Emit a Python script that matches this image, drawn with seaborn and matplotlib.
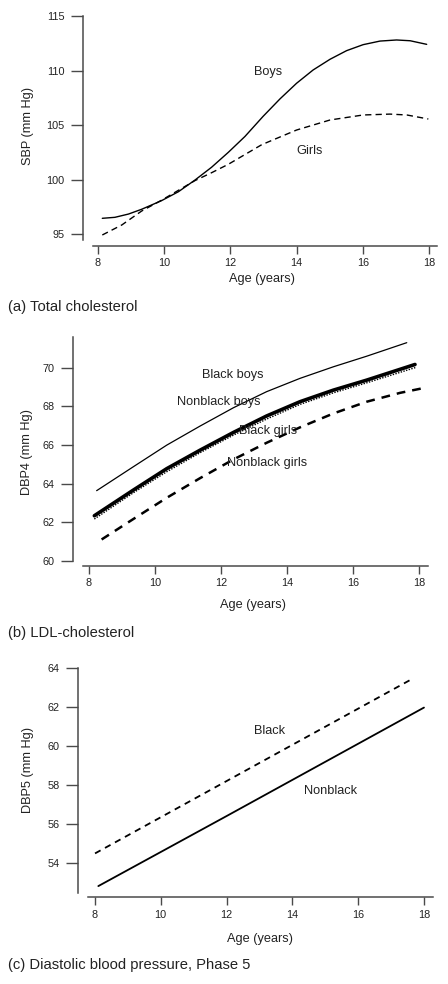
import matplotlib
matplotlib.use("Agg")
import matplotlib.pyplot as plt
import seaborn as sns

# ---------------- data ----------------
# (a) SBP by age, boys and girls
age_a_boys = [8.13, 8.51, 8.92, 9.32, 9.92, 10.43, 10.93, 11.43, 11.94, 12.44, 12.99, 13.5,
              14.0, 14.5, 15.01, 15.51, 16.01, 16.52, 17.02, 17.43, 17.93]
sbp_boys = [96.44, 96.53, 96.83, 97.27, 98.06, 98.88, 99.95, 101.12, 102.5, 103.95, 105.8, 107.4,
            108.83, 110.05, 111.03, 111.82, 112.37, 112.7, 112.8, 112.73, 112.4]
age_a_girls = [8.13, 8.72, 9.32, 9.92, 10.93, 11.43, 11.94, 12.95, 14.0, 15.01, 16.01, 16.82,
               17.33, 17.98]
sbp_girls = [94.91, 95.83, 97.11, 98.1, 99.9, 100.62, 101.4, 103.2, 104.54, 105.46, 105.92, 106.0,
             105.92, 105.55]

# (b) DBP4 by age
age_b_bb = [8.24, 9.35, 10.36, 11.37, 12.38, 13.38, 14.39, 15.40, 16.41, 17.62]
dbp4_black_boys = [63.63, 64.87, 65.99, 66.98, 67.93, 68.76, 69.45, 70.05, 70.6, 71.3]
age_b_nb = [8.17, 9.35, 10.36, 11.37, 12.38, 13.38, 14.39, 15.40, 16.41, 17.87]
dbp4_nonblack_boys = [62.33, 63.66, 64.77, 65.73, 66.65, 67.50, 68.24, 68.84, 69.36, 70.17]
age_b_bg = [8.17, 9.35, 10.36, 11.37, 12.38, 13.38, 14.39, 15.40, 16.41, 17.9]
dbp4_black_girls = [62.16, 63.52, 64.61, 65.6, 66.51, 67.34, 68.1, 68.7, 69.22, 70.02]
age_b_ng = [8.39, 9.35, 10.36, 11.37, 12.38, 13.38, 14.39, 15.40, 16.41, 17.42, 18.22]
dbp4_nonblack_girls = [61.1, 62.16, 63.26, 64.28, 65.25, 66.11, 66.91, 67.63, 68.24, 68.7, 68.98]

# (c) DBP5 by age
age_c_black = [8.01, 12.0, 17.67]
dbp5_black = [54.48, 58.2, 63.49]
age_c_nonblack = [8.11, 12.0, 17.99]
dbp5_nonblack = [52.8, 56.4, 61.98]

x_ticks = [8, 10, 12, 14, 16, 18]
y_ticks_a = [95, 100, 105, 110, 115]
y_ticks_b = [60, 62, 64, 66, 68, 70]
y_ticks_c = [54, 56, 58, 60, 62, 64]

captions = ["(a) Total cholesterol", "(b) LDL-cholesterol", "(c) Diastolic blood pressure, Phase 5"]
ylabels = ["SBP (mm Hg)", "DBP4 (mm Hg)", "DBP5 (mm Hg)"]

# ---------------- style ----------------
sns.set_style("ticks")
plt.rcParams["font.family"] = ["Liberation Sans", "DejaVu Sans"]

W, H = 448, 984
fig = plt.figure(figsize=(W / 100, H / 100), dpi=100)

SPINE_C = "#4a4a4a"
TXT_C = "#222222"
LBL_FS = 9.2
TICK_FS = 7.8


def make_ax(left, right, top, bottom):
    return fig.add_axes([left / W, 1 - bottom / H, (right - left) / W, (bottom - top) / H])


def style_ax(ax, xlim, ylim, yticks, left_out, bottom_out, ylabel, ylab_xy, xlab_xy):
    ax.set_xlim(*xlim)
    ax.set_ylim(*ylim)
    ax.set_xticks(x_ticks)
    ax.set_yticks(yticks)
    for s in ["top", "right"]:
        ax.spines[s].set_visible(False)
    ax.spines["left"].set_position(("outward", left_out))
    ax.spines["bottom"].set_position(("outward", bottom_out))
    for s in ["left", "bottom"]:
        ax.spines[s].set_color(SPINE_C)
        ax.spines[s].set_linewidth(1.1)
    ax.tick_params(axis="y", length=8.5, width=1.0, color=SPINE_C, labelsize=TICK_FS,
                   labelcolor=TXT_C, pad=5.0)
    ax.tick_params(axis="x", length=6, width=1.0, color=SPINE_C, labelsize=TICK_FS,
                   labelcolor=TXT_C, pad=3.2)
    ax.set_ylabel(ylabel, fontsize=LBL_FS, color=TXT_C)
    ax.yaxis.label.set_va("center")
    ax.yaxis.set_label_coords(*ylab_xy)
    ax.set_xlabel("Age (years)", fontsize=LBL_FS, color=TXT_C)
    ax.xaxis.label.set_va("center")
    ax.xaxis.set_label_coords(*xlab_xy)
    ax.grid(False)


def pix_to_axes(left, right, top, bottom, px, py):
    return ((px - left) / (right - left), (bottom - py) / (bottom - top))


# ---------------- panel (a) ----------------
la, ra, ta, ba = 93, 437, 16, 240
ax1 = make_ax(la, ra, ta, ba)
sns.lineplot(x=age_a_boys, y=sbp_boys, ax=ax1, color="black", lw=1.0, sort=True)
sns.lineplot(x=age_a_girls, y=sbp_girls, ax=ax1, color="black", lw=1.0,
             linestyle=(0, (4.5, 3)), sort=True)
ax1.text(13.14, 109.9, "Boys", fontsize=LBL_FS, color=TXT_C, ha="center", va="center")
ax1.text(14.4, 102.63, "Girls", fontsize=LBL_FS, color=TXT_C, ha="center", va="center")
style_ax(ax1, (7.849, 18.242), (94.45, 115), y_ticks_a, 7, 4, ylabels[0],
         pix_to_axes(la, ra, ta, ba, 28, 126), pix_to_axes(la, ra, ta, ba, 262, 279))

# ---------------- panel (b) ----------------
lb, rb, tb, bb = 82.7, 427.7, 336.7, 560.7
ax2 = make_ax(lb, rb, tb, bb)
sns.lineplot(x=age_b_bb, y=dbp4_black_boys, ax=ax2, color="black", lw=0.9)
sns.lineplot(x=age_b_bg, y=dbp4_black_girls, ax=ax2, color="black", lw=1.0,
             linestyle=(0, (1, 1)))
sns.lineplot(x=age_b_nb, y=dbp4_nonblack_boys, ax=ax2, color="black", lw=2.6)
sns.lineplot(x=age_b_ng, y=dbp4_nonblack_girls, ax=ax2, color="black", lw=1.8,
             linestyle=(0, (3.5, 2.8)))
ax2.text(12.37, 69.62, "Black boys", fontsize=LBL_FS, color=TXT_C, ha="center", va="center")
ax2.text(11.92, 68.24, "Nonblack boys", fontsize=LBL_FS, color=TXT_C, ha="center", va="center")
ax2.text(13.43, 66.72, "Black girls", fontsize=LBL_FS, color=TXT_C, ha="center", va="center")
ax2.text(13.38, 65.08, "Nonblack girls", fontsize=LBL_FS, color=TXT_C, ha="center", va="center")
style_ax(ax2, (7.818, 18.254), (60, 71.61), y_ticks_b, 6.7, 3.6, ylabels[1],
         pix_to_axes(lb, rb, tb, bb, 27, 452), pix_to_axes(lb, rb, tb, bb, 253, 605))

# ---------------- panel (c) ----------------
lc, rc, tc, bc = 88.3, 433.3, 668.3, 892.7
ax3 = make_ax(lc, rc, tc, bc)
sns.lineplot(x=age_c_black, y=dbp5_black, ax=ax3, color="black", lw=1.3,
             linestyle=(0, (3.5, 2.8)))
sns.lineplot(x=age_c_nonblack, y=dbp5_nonblack, ax=ax3, color="black", lw=1.3)
ax3.text(13.3, 60.78, "Black", fontsize=LBL_FS, color=TXT_C, ha="center", va="center")
ax3.text(15.17, 57.7, "Nonblack", fontsize=LBL_FS, color=TXT_C, ha="center", va="center")
style_ax(ax3, (7.806, 18.273), (52.46, 64), y_ticks_c, 7.3, 3.3, ylabels[2],
         pix_to_axes(lc, rc, tc, bc, 28, 770), pix_to_axes(lc, rc, tc, bc, 260, 939))

# ---------------- captions ----------------
for txt, yp in zip(captions, [306.7, 633.3, 965]):
    fig.text(8 / W, 1 - yp / H, txt, fontsize=10.6, color=TXT_C, ha="left", va="center")

fig.savefig("out.png", dpi=100)
